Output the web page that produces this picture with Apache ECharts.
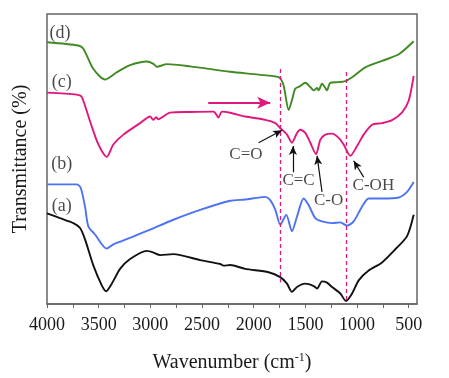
<!DOCTYPE html>
<html>
<head>
<meta charset="utf-8">
<script src="https://cdn.jsdelivr.net/npm/echarts@6/dist/echarts.min.js"></script>
<style>html,body{margin:0;padding:0;background:#fff;}#c{width:449px;height:378px;}</style>
</head>
<body>
<div id="c"></div>
<script>
// ---- data (wavenumber cm-1, transmittance in arbitrary offset units) ----
const aWave = [4000,3874,3745,3680,3632,3551,3470,3428,3373,3293,3196,3034,2970,2905,2777,2518,2324,2292,2227,2082,1856,1743,1678,1630,1581,1501,1420,1387,1339,1291,1242,1162,1107,1048,984,888,758,629,516,452];
const aT    = [92.3,87.3,82.3,77.3,65.7,39,19,13,20.7,35.7,45.7,54,52.3,49.7,50.7,44.7,40.7,39,39.7,35.7,32.3,27.3,20.7,12.3,17.3,20.7,18.3,15.7,23,21.7,17.3,10.7,3,10.7,24,34,42.3,55.7,69,90.7];

const bWave = [4000,3712,3674,3632,3600,3535,3422,3358,3196,3002,2777,2518,2227,2082,1888,1840,1791,1743,1685,1630,1581,1517,1469,1404,1339,1242,1162,1097,1033,952,888,758,597,516,452];
const bT    = [121.7,121.7,118.3,99,79,70.7,56.3,60.7,67.3,75.7,85.7,95.7,105,106.3,109,105.7,95.7,80.7,90.7,74,89,107.3,100.7,87.3,84,82.3,83,79.7,84,99,107.3,107.3,108.3,114,124];

const cWave = [4000,3712,3664,3583,3503,3422,3358,3261,3099,3002,2973,2944,2925,2809,2615,2389,2363,2341,2308,2227,2082,1888,1791,1743,1678,1630,1581,1549,1501,1452,1397,1355,1307,1242,1178,1130,1065,1000,936,855,758,661,564,500,452];
const cT    = [215,213,210.7,185.7,162.3,149.7,162.3,172.3,184,190.7,187.3,190,188,194.7,195.3,195.7,193,189.7,195.7,194.5,190.7,187.3,184,179,172.3,164,174,177.3,174,164,152.3,167.3,172.3,173.3,169,162.3,150.7,160.7,172.3,182.3,184,187,195,207,232];

const dWave = [4000,3697,3648,3551,3438,3325,3196,3034,2970,2937,2840,2615,2227,1953,1759,1711,1662,1630,1598,1549,1501,1452,1420,1387,1372,1339,1307,1291,1259,1178,1113,1048,920,758,597,452];
const dT    = [266.3,263,259.7,239,228.3,235.7,243,246.7,244.3,241.3,244,241.7,236.3,233.3,230.7,222.3,197.3,207.3,219,221.7,225,220.7,217.3,219.7,217.3,224,219.7,217.3,225,225.7,226.7,230.7,240.7,247.3,254,267.3];

const majorTicks = [4000,3500,3000,2500,2000,1500,1000,500];
const allTicks = [4000,3750,3500,3250,3000,2750,2500,2250,2000,1750,1500,1250,1000,750,500];

const curveNames = ['(a)','(b)','(c)','(d)'];
const curveLabelWave = [3858,3858,3858,3874];
const curveLabelT = [99,142.3,225.7,275.7];

const bandNames = ['C=O','C=C','C-O','C-OH'];
const bandLabelWave = [2075,1566,1275,842];
const bandLabelT = [152.3,125.7,105.7,121];
// arrow start / end (wavenumber, T)
const bandArrowFrom = [[1953,164],[1620,134],[1339,114],[936,129]];
const bandArrowTo   = [[1726,176.7],[1620,160.7],[1387,150.7],[1033,145.7]];

const dashWave = [1740,1100];
const dashTop = [239,236];
const dashBottom = [22,2];

const shiftArrowFrom = [2440,204.7];
const shiftArrowTo = [1840,204.7];

// ---- chart ----
const serif = 'Liberation Serif';
const pink = '#e0177c';
function pairs(xs, ys){ return xs.map((x,i)=>[x, ys[i]]); }

const chart = echarts.init(document.getElementById('c'), null, {renderer:'canvas'});
const lineBase = {type:'line', showSymbol:false, symbol:'none', smooth:0.25, z:3, animation:false};

const series = [
  Object.assign({}, lineBase, {name:'a', data:pairs(aWave,aT), lineStyle:{width:1.9,color:'#111'}, itemStyle:{color:'#111'}}),
  Object.assign({}, lineBase, {name:'b', data:pairs(bWave,bT), lineStyle:{width:1.9,color:'#4d72f2'}, itemStyle:{color:'#4d72f2'}}),
  Object.assign({}, lineBase, {name:'c', data:pairs(cWave,cT), lineStyle:{width:1.9,color:pink}, itemStyle:{color:pink}}),
  Object.assign({}, lineBase, {name:'d', data:pairs(dWave,dT), lineStyle:{width:1.9,color:'#3f8a22'}, itemStyle:{color:'#3f8a22'}}),
  {
    type:'scatter', name:'labels', symbolSize:0, animation:false, z:5,
    data: curveNames.map((n,i)=>({name:n, value:[curveLabelWave[i], curveLabelT[i]]}))
      .concat(bandNames.map((n,i)=>({name:n, value:[bandLabelWave[i], bandLabelT[i]], label:{fontSize:17}}))),
    label:{show:true, position:'inside', formatter:'{b}', fontFamily:serif, fontSize:18, color:'#1a1a1a'},
    markLine:{
      silent:true, animation:false, label:{show:false},
      data: dashWave.map((w,i)=>[
        {coord:[w, dashTop[i]], symbol:'none', lineStyle:{type:[4,3], color:pink, width:1.3}},
        {coord:[w, dashBottom[i]], symbol:'none'}
      ]).concat(bandArrowFrom.map((f,i)=>[
        {coord:f, symbol:'none', lineStyle:{type:'solid', color:'#111', width:1.2}},
        {coord:bandArrowTo[i], symbol:'arrow', symbolSize:[6,9]}
      ])).concat([[
        {coord:shiftArrowFrom, symbol:'none', lineStyle:{type:'solid', color:pink, width:2.2}},
        {coord:shiftArrowTo, symbol:'arrow', symbolSize:[9,13]}
      ]])
    }
  }
];

chart.setOption({
  animation:false,
  backgroundColor:'#fff',
  grid:{left:47, right:32, top:14, bottom:69, show:true, borderColor:'#666', borderWidth:1.5, backgroundColor:'transparent'},
  xAxis:{
    type:'value', inverse:true, min:420, max:4000,
    name:'Wavenumber (cm{sup|-1})', nameLocation:'middle', nameGap:48,
    nameTextStyle:{fontFamily:serif, fontSize:20, color:'#1a1a1a', rich:{sup:{fontFamily:serif, fontSize:12, verticalAlign:'top', padding:[0,0,10,0], color:'#1a1a1a'}}},
    axisLine:{show:true, lineStyle:{color:'#666', width:1.5}},
    axisTick:{show:true, customValues:allTicks, length:4, inside:false, lineStyle:{color:'#666', width:1}},
    axisLabel:{show:true, customValues:majorTicks, formatter:function(v){return String(v);}, fontFamily:serif, fontSize:18, color:'#1a1a1a', margin:12},
    splitLine:{show:false}
  },
  yAxis:{
    type:'value', min:0, max:295,
    name:'Transmittance (%)', nameLocation:'middle', nameGap:16,
    nameTextStyle:{fontFamily:serif, fontSize:20, color:'#1a1a1a'},
    axisLine:{show:false}, axisTick:{show:false}, axisLabel:{show:false}, splitLine:{show:false}
  },
  series: series
});
</script>
</body>
</html>
